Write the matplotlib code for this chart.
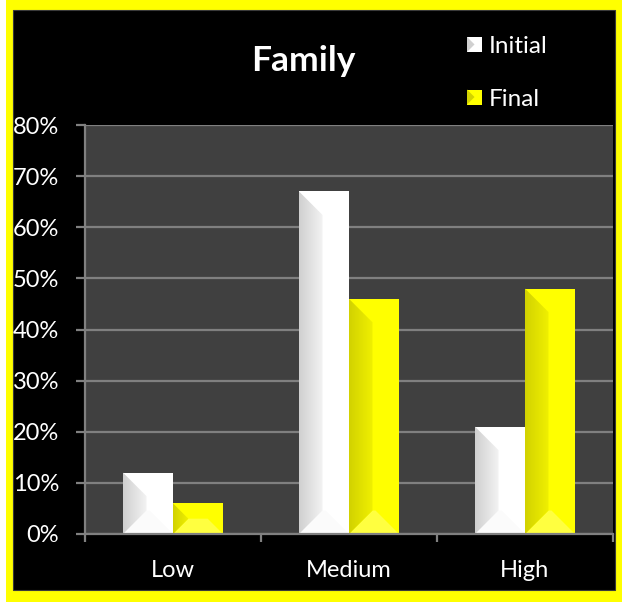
import numpy as np
import matplotlib
matplotlib.use("Agg")
import matplotlib.pyplot as plt
from matplotlib.patches import Rectangle, Polygon
from matplotlib.legend_handler import HandlerPatch
import matplotlib.patches as mpatches

# ---- data ----
categories = ["Low", "Medium", "High"]
initial = [0.12, 0.67, 0.21]
final = [0.06, 0.46, 0.48]
series_names = ["Initial", "Final"]
y_ticks = [0.0, 0.1, 0.2, 0.3, 0.4, 0.5, 0.6, 0.7, 0.8]
y_tick_labels = ["0%", "10%", "20%", "30%", "40%", "50%", "60%", "70%", "80%"]

# ---- style ----
FONT = "Lato"
W, H = 622, 602
DPI = 100
YELLOW = "#FFFF00"
GRID = "#808080"
PLOT_BG = "#404040"

# face colour, left-bevel gradient (outer edge, inner edge), bottom bevel colour
STYLES = {
    "Initial": dict(face="#FFFFFF", dark="#D0D0D0", light="#F3F3F3", bottom="#FBFBFB"),
    "Final": dict(face="#FFFF00", dark="#D2D200", light="#F0F000", bottom="#FFFF40"),
}

fig = plt.figure(figsize=(W / DPI, H / DPI), dpi=DPI, facecolor="white")

# yellow frame and black chart area
fig.patches.append(Rectangle((6 / W, 0), (W - 6) / W, 1, transform=fig.transFigure,
                             facecolor=YELLOW, edgecolor="none", zorder=-10))
fig.patches.append(Rectangle((13 / W, 12 / H), (615 - 13) / W, (592 - 12) / H,
                             transform=fig.transFigure, facecolor="black",
                             edgecolor="#3a3a3a", linewidth=0.8, zorder=-9))

# plot area: left 85, right 613, top 125, bottom 534 (pixels)
ax = fig.add_axes([85 / W, 1 - 534 / H, (613 - 85) / W, (534 - 125) / H])
ax.set_facecolor(PLOT_BG)
ax.set_xlim(-0.5, len(categories) - 0.5)
ax.set_ylim(0, 0.8)

ax.set_yticks(y_ticks)
ax.set_yticklabels(y_tick_labels)
ax.yaxis.grid(True, color=GRID, linewidth=1.6)
ax.set_axisbelow(True)

x = np.arange(len(categories))
ax.set_xticks(x)
ax.set_xticklabels(categories)
ax.set_xticks(np.arange(len(categories) + 1) - 0.5, minor=True)

for side in ("top", "right"):
    ax.spines[side].set_visible(False)
for side in ("left", "bottom"):
    ax.spines[side].set_color(GRID)
    ax.spines[side].set_linewidth(1.6)

ax.tick_params(axis="y", which="major", length=6.5, width=1.6, color=GRID,
               labelcolor="white", labelsize=17, pad=12)
ax.tick_params(axis="x", which="major", length=0, labelcolor="white",
               labelsize=17, pad=19)
ax.tick_params(axis="x", which="minor", length=6, width=1.6, color=GRID)
for lab in ax.get_xticklabels() + ax.get_yticklabels():
    lab.set_fontfamily(FONT)

bar_w = 0.284
bars_i = ax.bar(x - bar_w / 2, initial, width=bar_w, color=STYLES["Initial"]["face"],
                edgecolor="none", zorder=2, label="Initial")
bars_f = ax.bar(x + bar_w / 2, final, width=bar_w, color=STYLES["Final"]["face"],
                edgecolor="none", zorder=2, label="Final")


def add_bevel(ax, rect, st, frac=0.47):
    """Shade the left and bottom bevels of a bar to give it a raised look."""
    x0, y0 = rect.get_x(), rect.get_y()
    w, h = rect.get_width(), rect.get_height()
    x1, y1 = x0 + w, y0 + h
    p0 = ax.transData.transform((0, 0))
    p1 = ax.transData.transform((1, 1))
    sx, sy = p1[0] - p0[0], p1[1] - p0[1]
    b = min(frac * w * sx, h * sy / 2)
    bx, by = b / sx, b / sy

    bottom = Polygon([(x0, y0), (x1, y0), (x1 - bx, y0 + by), (x0 + bx, y0 + by)],
                     closed=True, facecolor=st["bottom"], edgecolor="none", zorder=2.1)
    ax.add_patch(bottom)

    left = Polygon([(x0, y0), (x0 + bx, y0 + by), (x0 + bx, y1 - by), (x0, y1)],
                   closed=True, facecolor="none", edgecolor="none", zorder=2.2)
    ax.add_patch(left)
    c0 = np.array(matplotlib.colors.to_rgb(st["dark"]))
    c1 = np.array(matplotlib.colors.to_rgb(st["light"]))
    t = np.linspace(0, 1, 64)[None, :, None]
    grad = c0 + (c1 - c0) * t
    im = ax.imshow(grad, extent=(x0, x0 + bx, y0, y1), aspect="auto",
                   interpolation="bilinear", zorder=2.2)
    im.set_clip_path(left)


for rect in bars_i:
    add_bevel(ax, rect, STYLES["Initial"])
for rect in bars_f:
    add_bevel(ax, rect, STYLES["Final"])
ax.set_xlim(-0.5, len(categories) - 0.5)
ax.set_ylim(0, 0.8)

# title
fig.text(303 / W, 1 - 61 / H, "Family", color="white", fontsize=25.5,
         fontweight="bold", fontfamily=FONT, ha="center", va="center")


class BevelSquareHandler(HandlerPatch):
    def __init__(self, st):
        super().__init__()
        self.st = st

    def create_artists(self, legend, orig_handle, xdescent, ydescent, width, height,
                       fontsize, trans):
        s = min(width, height)
        x0, y0 = -xdescent, -ydescent + (height - s) / 2
        sq = Rectangle((x0, y0), s, s, facecolor=self.st["face"], edgecolor="none",
                       transform=trans)
        tri = Polygon([(x0, y0), (x0 + s * 0.5, y0 + s / 2), (x0, y0 + s)], closed=True,
                      facecolor=self.st["dark"], edgecolor="none", transform=trans)
        return [sq, tri]


handles = [mpatches.Patch(label=n) for n in series_names]
fs_leg = 17.5
leg = fig.legend(handles=handles, labels=series_names, loc="upper left",
                 bbox_to_anchor=(467 / W, 1 - 36 / H), bbox_transform=fig.transFigure,
                 frameon=False, borderpad=0, borderaxespad=0, fontsize=fs_leg,
                 handlelength=0.62, handleheight=0.62, handletextpad=0.26,
                 labelspacing=1.3,
                 handler_map={handles[0]: BevelSquareHandler(STYLES["Initial"]),
                              handles[1]: BevelSquareHandler(STYLES["Final"])},
                 prop={"family": FONT, "size": fs_leg})
for t in leg.get_texts():
    t.set_color("white")

fig.savefig("out.png", dpi=DPI, facecolor=fig.get_facecolor())
